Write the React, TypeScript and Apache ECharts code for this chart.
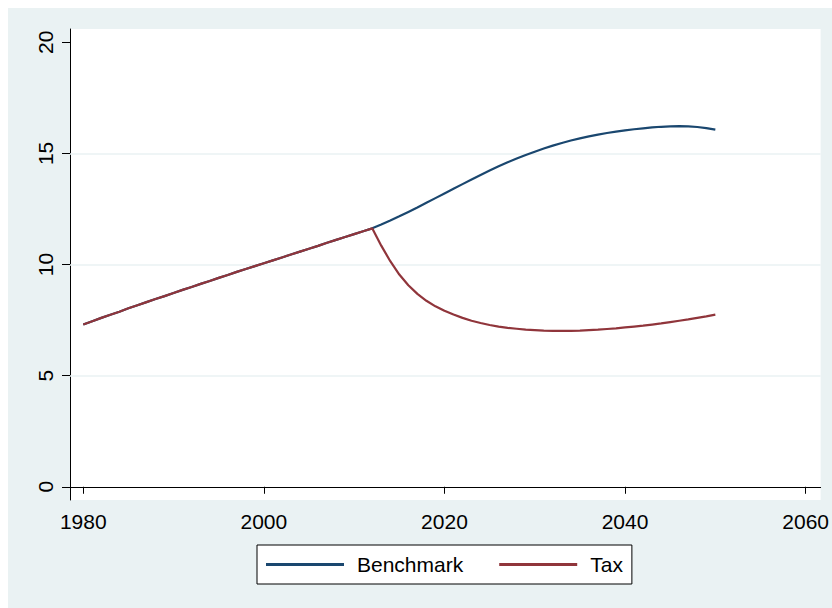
import React, { useEffect, useRef } from "react";
import * as echarts from "echarts";

const years: number[] = [];
for (let y = 1980; y <= 2050; y++) years.push(y);

const sharedValues = [
  7.3, 7.45, 7.6, 7.74, 7.88, 8.03, 8.17, 8.31, 8.45, 8.58,
  8.72, 8.86, 8.99, 9.13, 9.26, 9.4, 9.53, 9.67, 9.8, 9.93,
  10.06, 10.19, 10.32, 10.45, 10.58, 10.71, 10.84, 10.98, 11.11, 11.24,
  11.37, 11.5, 11.63,
];

const benchmarkAfter = [
  11.8, 11.98, 12.17, 12.37, 12.57, 12.78, 12.99, 13.2, 13.41, 13.62,
  13.83, 14.03, 14.23, 14.42, 14.6, 14.77, 14.93, 15.08, 15.22, 15.35,
  15.47, 15.58, 15.68, 15.77, 15.85, 15.92, 15.98, 16.04, 16.09, 16.13,
  16.17, 16.2, 16.22, 16.23, 16.22, 16.19, 16.14, 16.07,
];

const taxAfter = [
  10.85, 10.15, 9.55, 9.07, 8.68, 8.37, 8.12, 7.92, 7.75, 7.6,
  7.47, 7.37, 7.28, 7.21, 7.15, 7.11, 7.07, 7.05, 7.03, 7.02,
  7.02, 7.02, 7.03, 7.05, 7.07, 7.1, 7.13, 7.17, 7.21, 7.25,
  7.3, 7.35, 7.41, 7.47, 7.53, 7.6, 7.67, 7.75,
];

const benchmarkValues = [...sharedValues, ...benchmarkAfter];
const taxValues = [...sharedValues, ...taxAfter];

const xTicks = [1980, 2000, 2020, 2040, 2060];
const yTicks = [0, 5, 10, 15, 20];
const gridValues = [5, 10, 15];

const FONT = "'Liberation Sans', Arial, Helvetica, sans-serif";
const BG = "#eaf2f3";

export default function App() {
  const ref = useRef<HTMLDivElement>(null);
  useEffect(() => {
    if (!ref.current) return;
    const chart = echarts.init(ref.current, undefined, {
      renderer: "svg",
      width: 824,
      height: 600,
    });
    chart.setOption({
      animation: false,
      backgroundColor: BG,
      textStyle: { fontFamily: FONT },
      grid: {
        left: 62,
        top: 21,
        width: 751,
        height: 471,
        show: true,
        backgroundColor: "#ffffff",
        borderWidth: 0,
      },
      xAxis: {
        type: "value",
        min: 1978.53,
        max: 2061.66,
        axisLine: { show: true, lineStyle: { color: "#000", width: 1 } },
        axisTick: {
          show: true,
          length: 7,
          customValues: xTicks,
          lineStyle: { color: "#000", width: 1 },
        },
        axisLabel: {
          customValues: xTicks,
          formatter: (v: number) => String(v),
          color: "#000",
          fontSize: 21,
          fontFamily: FONT,
          margin: 11,
        },
        splitLine: { show: false },
      },
      yAxis: {
        type: "value",
        min: -0.595,
        max: 20.6,
        axisLine: { show: true, lineStyle: { color: "#000", width: 1 } },
        axisTick: {
          show: true,
          length: 8,
          customValues: yTicks,
          lineStyle: { color: "#000", width: 1 },
        },
        axisLabel: {
          customValues: yTicks,
          formatter: (v: number) => String(v),
          color: "#000",
          fontSize: 21,
          fontFamily: FONT,
          rotate: 90,
          margin: 14,
        },
        splitLine: { show: false },
      },
      legend: {
        left: 249,
        top: 537,
        orient: "horizontal",
        backgroundColor: "#ffffff",
        borderColor: "#000",
        borderWidth: 1,
        borderRadius: 0,
        padding: [8, 9],
        itemGap: 36,
        itemWidth: 78,
        itemHeight: 3,
        icon: "rect",
        textStyle: {
          color: "#000",
          fontSize: 21,
          fontFamily: FONT,
          lineHeight: 23,
          padding: [0, 0, 0, 8],
        },
        data: ["Benchmark", "Tax"],
      },
      series: [
        {
          name: "Benchmark",
          type: "line",
          data: years.map((y, i) => [y, benchmarkValues[i]]),
          showSymbol: false,
          smooth: false,
          color: "#1a476f",
          lineStyle: { color: "#1a476f", width: 2.2 },
          z: 3,
          markLine: {
            silent: true,
            symbol: "none",
            z: 1,
            label: { show: false },
            lineStyle: { color: BG, width: 1.5, type: "solid" },
            data: gridValues.map((v) => ({ yAxis: v })),
          },
        },
        {
          name: "Tax",
          type: "line",
          data: years.map((y, i) => [y, taxValues[i]]),
          showSymbol: false,
          smooth: false,
          color: "#90353b",
          lineStyle: { color: "#90353b", width: 2.2 },
          z: 4,
        },
      ],
    });
    return () => chart.dispose();
  }, []);
  return (
    <div
      ref={ref}
      style={{ position: "absolute", left: 8, top: 8, width: 824, height: 600 }}
    />
  );
}
